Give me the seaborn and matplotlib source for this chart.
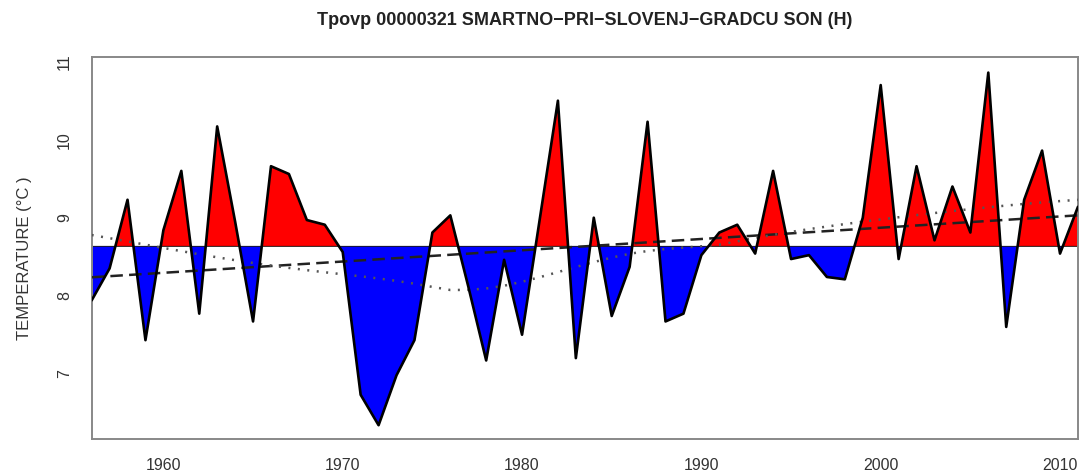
import numpy as np
import pandas as pd
import matplotlib
matplotlib.use("Agg")
import matplotlib.pyplot as plt
import seaborn as sns

years = list(range(1956, 2012))
temps = [7.94, 8.35, 9.23, 7.43, 8.84, 9.60, 7.77, 10.17, 8.95, 7.67,
         9.66, 9.56, 8.97, 8.91, 8.56, 6.73, 6.34, 6.98, 7.43, 8.81,
         9.03, 8.12, 7.17, 8.46, 7.50, 9.00, 10.50, 7.20, 9.00, 7.74,
         8.37, 10.23, 7.67, 7.77, 8.52, 8.81, 8.91, 8.54, 9.60, 8.47,
         8.52, 8.24, 8.21, 9.00, 10.70, 8.47, 9.66, 8.71, 9.40, 8.81,
         10.86, 7.60, 9.23, 9.86, 8.54, 9.14]
year_ticks = [1960, 1970, 1980, 1990, 2000, 2010]
temp_ticks = [7, 8, 9, 10, 11]
title = "Tpovp 00000321 SMARTNO\u2212PRI\u2212SLOVENJ\u2212GRADCU SON (H)"


def loess(x, y, span=0.75, degree=2):
    # local polynomial smoother with tricube weights (like R's loess defaults)
    x = (x - x.mean()) / x.std()
    n = len(x)
    q = int(np.floor(span * n))
    out = np.zeros(n)
    for i in range(n):
        d = np.abs(x - x[i])
        h = np.sort(d)[q - 1]
        w = (1 - np.clip(d / h, 0, 1) ** 3) ** 3
        X = np.vander(x - x[i], degree + 1, increasing=True)
        W = np.sqrt(w)
        beta = np.linalg.lstsq(X * W[:, None], y * W, rcond=None)[0]
        out[i] = beta[0]
    return out


df = pd.DataFrame({"year": years, "temp": temps})
x = df["year"].to_numpy(dtype=float)
y = df["temp"].to_numpy()
mean_t = y.mean()
df["smooth"] = loess(x, y)

sns.set_theme(style="white")
plt.rcParams["font.family"] = ["Liberation Sans", "DejaVu Sans"]

fig = plt.figure(figsize=(10.86, 4.74), dpi=100)
ax = fig.add_axes([0.0844, 0.0738, 0.9082, 0.8053])

ax.fill_between(x, y, mean_t, where=y >= mean_t, interpolate=True,
                facecolor="#ff0000", edgecolor="black", linewidth=0.6, zorder=1)
ax.fill_between(x, y, mean_t, where=y <= mean_t, interpolate=True,
                facecolor="#0000ff", edgecolor="black", linewidth=0.6, zorder=1)

sns.regplot(data=df, x="year", y="temp", scatter=False, ci=None, ax=ax,
            line_kws=dict(color="#222222", linestyle=(0, (5, 2.5)), linewidth=1.8, zorder=3))
sns.lineplot(data=df, x="year", y="smooth", ax=ax, color="#555555",
             linestyle=(0, (0.8, 3)), linewidth=1.8, zorder=3)
sns.lineplot(data=df, x="year", y="temp", ax=ax, color="black",
             linewidth=1.9, zorder=4)

ax.set_xlim(1956, 2011)
ax.set_ylim(6.163, 11.056)
ax.set_xticks(year_ticks)
ax.set_yticks(temp_ticks)
ax.set_xticklabels([str(t) for t in year_ticks])
ax.set_yticklabels([str(t) for t in temp_ticks], rotation=90, va="center")
ax.tick_params(axis="both", direction="out", length=7, width=1.2,
               color="#777777", labelcolor="#333333", labelsize=11.5)
ax.tick_params(axis="x", pad=7)
ax.tick_params(axis="y", pad=7)
for sp in ax.spines.values():
    sp.set_visible(True)
    sp.set_color("#888888")
    sp.set_linewidth(1.4)

ax.set_xlabel("")
ax.set_ylabel("TEMPERATURE (\u00b0C )", fontsize=12, color="#333333")
ax.yaxis.set_label_coords(-0.0605, 0.474)

fig.text(0.5384, 0.957, title, ha="center", va="center",
         fontsize=13, fontweight="bold", color="#222222")

fig.savefig("out.png", dpi=100)
